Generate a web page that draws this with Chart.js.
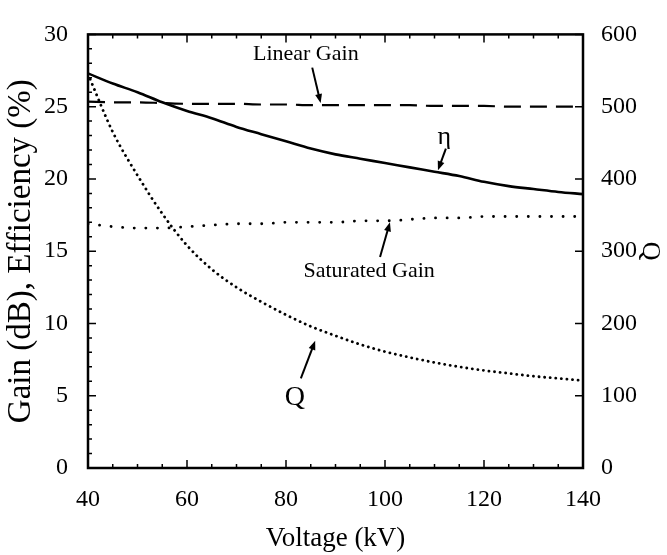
<!DOCTYPE html>
<html>
<head>
<meta charset="utf-8">
<script src="https://cdn.jsdelivr.net/npm/chart.js@4.4.1/dist/chart.umd.min.js"></script>
<style>
  html, body { margin: 0; padding: 0; background: #fff; }
  #wrap { width: 667px; height: 555px; }
</style>
</head>
<body>
<div id="wrap"><canvas id="gainChart" width="667" height="555"></canvas></div>
<script>
// ## DATA ##
const voltage = [40, 45, 50, 55, 60, 65, 70, 75, 80, 85, 90, 95, 100, 105, 110, 115, 120, 125, 130, 135, 140];
const linearGain = [25.35, 25.3, 25.3, 25.25, 25.2, 25.2, 25.2, 25.15, 25.15, 25.1, 25.1, 25.1, 25.1, 25.1, 25.05, 25.05, 25.05, 25.0, 25.0, 25.0, 25.0];
const efficiency = [27.3, 26.6, 26.0, 25.3, 24.7, 24.2, 23.6, 23.1, 22.6, 22.1, 21.7, 21.4, 21.1, 20.8, 20.5, 20.2, 19.8, 19.5, 19.3, 19.1, 18.95];
const saturatedGain = [16.9, 16.7, 16.6, 16.6, 16.7, 16.8, 16.9, 16.9, 17.0, 17.0, 17.0, 17.1, 17.1, 17.2, 17.3, 17.3, 17.4, 17.4, 17.4, 17.4, 17.4];
const qFactor = [545, 465, 405, 352, 308, 275, 250, 230, 212, 196, 183, 171, 161, 153, 146, 140, 135, 131, 127, 124, 121];

const xTicks = [40, 60, 80, 100, 120, 140];
const yTicks = [0, 5, 10, 15, 20, 25, 30];
const y2Ticks = [0, 100, 200, 300, 400, 500, 600];

const SERIF = "'Liberation Serif', 'DejaVu Serif', serif";

function toPoints(values) {
  return voltage.map((v, i) => ({ x: v, y: values[i] }));
}

// labels with arrows, placed in data units
const labels = [
  { text: "Linear Gain", at: [84, 28.6], size: 22, arrow: [85.3, 27.7, 87, 25.25], axis: "y" },
  { text: "\u03b7", at: [112, 22.9], size: 26, arrow: [112.3, 22.1, 110.7, 20.6], axis: "y" },
  { text: "Saturated Gain", at: [96.8, 13.6], size: 22, arrow: [99, 14.6, 101, 17.0], axis: "y" },
  { text: "Q", at: [81.8, 4.9], size: 28, arrow: [83, 6.2, 85.9, 8.8], axis: "y" },
];

// frame + inward tick marks + labels
const framePlugin = {
  id: "framePlugin",
  afterDatasetsDraw(chart) {
    const { ctx, chartArea: a, scales } = chart;
    const x = scales.x, y = scales.y, y2 = scales.y2;
    ctx.save();
    ctx.strokeStyle = "#000";
    ctx.lineWidth = 1.5;
    ctx.beginPath();
    for (let v = 40; v <= 140; v += 5) {
      const px = x.getPixelForValue(v);
      const len = v % 20 === 0 ? 8 : 4;
      ctx.moveTo(px, a.bottom);
      ctx.lineTo(px, a.bottom - len);
      ctx.moveTo(px, a.top);
      ctx.lineTo(px, a.top + len);
    }
    for (let v = 0; v <= 30; v += 1) {
      const py = y.getPixelForValue(v);
      const len = v % 5 === 0 ? 8 : 4;
      ctx.moveTo(a.left, py);
      ctx.lineTo(a.left + len, py);
    }
    for (let v = 0; v <= 600; v += 100) {
      const py = y2.getPixelForValue(v);
      ctx.moveTo(a.right, py);
      ctx.lineTo(a.right - 8, py);
    }
    ctx.stroke();

    ctx.lineWidth = 2.5;
    ctx.strokeRect(a.left, a.top, a.right - a.left, a.bottom - a.top);

    ctx.fillStyle = "#000";
    ctx.textAlign = "center";
    ctx.textBaseline = "middle";
    labels.forEach((l) => {
      const ys = scales[l.axis];
      ctx.font = l.size + "px " + SERIF;
      ctx.fillText(l.text, x.getPixelForValue(l.at[0]), ys.getPixelForValue(l.at[1]));
      const x1 = x.getPixelForValue(l.arrow[0]), y1 = ys.getPixelForValue(l.arrow[1]);
      const x2 = x.getPixelForValue(l.arrow[2]), y2p = ys.getPixelForValue(l.arrow[3]);
      const ang = Math.atan2(y2p - y1, x2 - x1);
      ctx.lineWidth = 2;
      ctx.beginPath();
      ctx.moveTo(x1, y1);
      ctx.lineTo(x2 - 6 * Math.cos(ang), y2p - 6 * Math.sin(ang));
      ctx.stroke();
      ctx.beginPath();
      ctx.moveTo(x2, y2p);
      ctx.lineTo(x2 - 9 * Math.cos(ang) + 3.5 * Math.sin(ang), y2p - 9 * Math.sin(ang) - 3.5 * Math.cos(ang));
      ctx.lineTo(x2 - 9 * Math.cos(ang) - 3.5 * Math.sin(ang), y2p - 9 * Math.sin(ang) + 3.5 * Math.cos(ang));
      ctx.closePath();
      ctx.fill();
    });
    ctx.restore();
  },
};

const ctx = document.getElementById("gainChart").getContext("2d");
window.gainChart = new Chart(ctx, {
  type: "line",
  data: {
    datasets: [
      {
        label: "Linear Gain",
        data: toPoints(linearGain),
        yAxisID: "y",
        borderColor: "#000",
        borderWidth: 2.2,
        borderDash: [17, 9],
        pointRadius: 0,
        cubicInterpolationMode: "monotone",
      },
      {
        label: "η",
        data: toPoints(efficiency),
        yAxisID: "y",
        borderColor: "#000",
        borderWidth: 2.6,
        pointRadius: 0,
        cubicInterpolationMode: "monotone",
      },
      {
        label: "Saturated Gain",
        data: toPoints(saturatedGain),
        yAxisID: "y",
        borderColor: "#000",
        borderWidth: 2.8,
        borderDash: [0.1, 11.5],
        borderCapStyle: "round",
        pointRadius: 0,
        cubicInterpolationMode: "monotone",
      },
      {
        label: "Q",
        data: toPoints(qFactor),
        yAxisID: "y2",
        borderColor: "#000",
        borderWidth: 2.8,
        borderDash: [0.1, 5.5],
        borderCapStyle: "round",
        pointRadius: 0,
        cubicInterpolationMode: "monotone",
      },
    ],
  },
  options: {
    responsive: false,
    animation: false,
    layout: { padding: { top: 23, left: 0, right: 0, bottom: 0 } },
    plugins: { legend: { display: false }, tooltip: { enabled: false } },
    scales: {
      x: {
        type: "linear",
        min: 40,
        max: 140,
        afterBuildTicks: (s) => { s.ticks = xTicks.map((v) => ({ value: v })); },
        afterFit: (s) => { s.height = 87; },
        ticks: { color: "#000", padding: 17, maxRotation: 0, font: { family: SERIF, size: 24 } },
        grid: { display: false, drawTicks: false },
        border: { display: false },
        title: { display: true, text: "Voltage (kV)", color: "#000", padding: 0, font: { family: SERIF, size: 27 } },
      },
      y: {
        position: "left",
        min: 0,
        max: 30,
        afterBuildTicks: (s) => { s.ticks = yTicks.map((v) => ({ value: v })); },
        afterFit: (s) => { s.width = 88; },
        ticks: { color: "#000", padding: 20, font: { family: SERIF, size: 24 } },
        grid: { display: false, drawTicks: false },
        border: { display: false },
        title: { display: true, text: "Gain (dB), Efficiency (%)", color: "#000", padding: 2, font: { family: SERIF, size: 33 } },
      },
      y2: {
        position: "right",
        min: 0,
        max: 600,
        afterBuildTicks: (s) => { s.ticks = y2Ticks.map((v) => ({ value: v })); },
        afterFit: (s) => { s.width = 84; },
        ticks: { color: "#000", padding: 18, font: { family: SERIF, size: 24 } },
        grid: { display: false, drawTicks: false },
        border: { display: false },
        title: { display: true, text: "Q", color: "#000", padding: 2, font: { family: SERIF, size: 26 } },
      },
    },
  },
  plugins: [framePlugin],
});
</script>
</body>
</html>
